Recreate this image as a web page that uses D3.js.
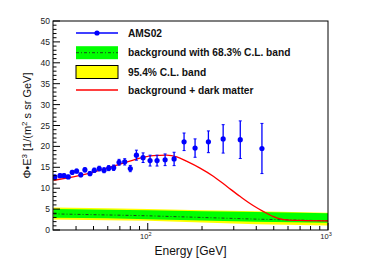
<!DOCTYPE html>
<html><head><meta charset="utf-8">
<script src="https://cdn.jsdelivr.net/npm/d3@7"></script>
<style>body{margin:0;background:#fff}svg{display:block}</style>
</head><body><svg id="c" width="382" height="262"></svg>
<script>
// Data
const energy = [30.5, 32.6, 34.3, 36.2, 38.1, 40.3, 42.5, 44.8, 47.8, 50.5, 53.8, 57.2, 60.7, 64.7, 69.3, 74.5, 80.0, 86.5, 94.2, 103, 112.6, 124.8, 140, 159, 183, 217, 262, 326, 430];
const flux = [12.7, 13.0, 13.0, 12.7, 13.8, 14.1, 13.2, 14.4, 13.5, 14.3, 14.7, 14.3, 14.8, 14.9, 16.2, 16.3, 14.7, 17.9, 17.3, 16.6, 16.6, 16.8, 17.0, 21.1, 19.6, 21.1, 21.8, 21.6, 19.5];
const fluxErr = [0.4, 0.4, 0.4, 0.4, 0.45, 0.45, 0.45, 0.5, 0.5, 0.5, 0.55, 0.6, 0.6, 0.65, 0.7, 0.75, 0.75, 1.2, 1.15, 1.3, 1.3, 1.4, 1.6, 2.1, 2.2, 2.6, 3.4, 4.5, 6.0];

const dmEnergy = [30, 38.6, 47.8, 59.1, 73.2, 90.6, 107, 127, 145, 165, 195, 232, 275, 326, 386, 439, 499, 567, 700, 1000];
const dmFlux = [11.9, 12.7, 13.6, 14.8, 16.0, 17.2, 17.8, 17.9, 17.5, 16.4, 14.8, 12.8, 10.4, 8.0, 5.8, 4.4, 3.2, 2.5, 2.3, 2.2];

const bandEnergy = [30, 60, 100, 200, 400, 1000];
const bgCenter = [3.85, 3.6, 3.4, 3.0, 2.6, 2.2];
const band68Lo = [2.95, 2.8, 2.6, 2.3, 2.0, 1.75];
const band68Hi = [5.0, 4.85, 4.7, 4.5, 4.3, 4.0];
const band95Lo = [2.5, 2.35, 2.2, 1.8, 1.4, 1.1];
const band95Hi = [5.4, 5.2, 5.0, 4.75, 4.5, 4.15];

const yTicks = [0, 5, 10, 15, 20, 25, 30, 35, 40, 45, 50];
const xMajor = [100, 1000];
const xMajorExp = ["2", "3"];
const legendLabels = ["AMS02", "background with 68.3% C.L. band", "95.4% C.L. band", "background + dark matter"];

const L = 53, R = 328, T = 21, B = 230;
const svg = d3.select("#c");
const x = d3.scaleLog().domain([29.8, 1000]).range([L, R]);
const y = d3.scaleLinear().domain([0, 50]).range([B, T]);

svg.append("clipPath").attr("id", "clip").append("rect")
  .attr("x", L).attr("y", T).attr("width", R - L).attr("height", B - T);
const g = svg.append("g").attr("clip-path", "url(#clip)");

const band = bandEnergy.map((e, i) => ({e, c: bgCenter[i], gl: band68Lo[i], gh: band68Hi[i], yl: band95Lo[i], yh: band95Hi[i]}));
g.append("path").datum(band).attr("fill", "#ffff00")
  .attr("d", d3.area().x(d => x(d.e)).y0(d => y(d.yl)).y1(d => y(d.yh)));
g.append("path").datum(band).attr("fill", "#00ff00")
  .attr("d", d3.area().x(d => x(d.e)).y0(d => y(d.gl)).y1(d => y(d.gh)));
g.append("path").datum(band).attr("fill", "none").attr("stroke", "#1a4d1a").attr("stroke-width", 1)
  .attr("stroke-dasharray", "3,2,1,2")
  .attr("d", d3.line().x(d => x(d.e)).y(d => y(d.c)));

const dm = dmEnergy.map((e, i) => ({e, v: dmFlux[i]}));
g.append("path").datum(dm).attr("fill", "none").attr("stroke", "#ff0000").attr("stroke-width", 1.3)
  .attr("d", d3.line().x(d => x(d.e)).y(d => y(d.v)).curve(d3.curveMonotoneX));

const pts = energy.map((e, i) => ({e, v: flux[i], s: fluxErr[i]}));
const pg = g.append("g");
pts.forEach(p => {
  const px = x(p.e);
  pg.append("line").attr("x1", px).attr("x2", px).attr("y1", y(p.v - p.s)).attr("y2", y(p.v + p.s))
    .attr("stroke", "#0000ff").attr("stroke-width", 1.3);
  [p.v - p.s, p.v + p.s].forEach(vv => pg.append("line").attr("x1", px - 1.5).attr("x2", px + 1.5)
    .attr("y1", y(vv)).attr("y2", y(vv)).attr("stroke", "#0000ff").attr("stroke-width", 1));
  pg.append("circle").attr("cx", px).attr("cy", y(p.v)).attr("r", 2.6).attr("fill", "#0000ff");
});

// frame
svg.append("rect").attr("x", L).attr("y", T).attr("width", R - L).attr("height", B - T)
  .attr("fill", "none").attr("stroke", "#000").attr("stroke-width", 1);

// y ticks
const yMinor = d3.range(0, 51, 1);
yMinor.forEach(v => {
  const major = v % 5 === 0;
  svg.append("line").attr("x1", L).attr("x2", L + (major ? 7 : 3.5)).attr("y1", y(v)).attr("y2", y(v))
    .attr("stroke", "#000").attr("stroke-width", 1);
});
yTicks.forEach(v => svg.append("text").attr("x", 50).attr("y", y(v) + 3)
  .attr("text-anchor", "end").attr("font-family", "Liberation Sans, Arial, sans-serif")
  .attr("font-size", 8.5).attr("fill", "#222").text(v));

// x ticks
const xMinor = [40, 50, 60, 70, 80, 90, 200, 300, 400, 500, 600, 700, 800, 900];
xMinor.forEach(v => svg.append("line").attr("x1", x(v)).attr("x2", x(v)).attr("y1", B).attr("y2", B - 4)
  .attr("stroke", "#000").attr("stroke-width", 1));
xMajor.forEach((v, i) => {
  svg.append("line").attr("x1", x(v)).attr("x2", x(v)).attr("y1", B).attr("y2", B - 7)
    .attr("stroke", "#000").attr("stroke-width", 1);
  const t = svg.append("text").attr("x", x(v) - 2).attr("y", 239).attr("text-anchor", "middle")
    .attr("font-family", "Liberation Sans, Arial, sans-serif").attr("font-size", 7.5).attr("fill", "#222");
  t.append("tspan").text("10");
  t.append("tspan").attr("font-size", 5.5).attr("dy", -3).text(xMajorExp[i]);
});

// axis titles
svg.append("text").attr("x", (L + R) / 2).attr("y", 255).attr("text-anchor", "middle")
  .attr("font-family", "Liberation Sans, Arial, sans-serif").attr("font-size", 12).attr("fill", "#111")
  .text("Energy [GeV]");
const yt = svg.append("text").attr("transform", `translate(31,${(T + B) / 2}) rotate(-90)`)
  .attr("text-anchor", "middle").attr("font-family", "Liberation Sans, Arial, sans-serif")
  .attr("font-size", 11).attr("fill", "#111");
yt.append("tspan").text("Φ•E");
yt.append("tspan").attr("font-size", 8).attr("dy", -4.5).text("3");
yt.append("tspan").attr("dy", 4.5).text(" [1/(m");
yt.append("tspan").attr("font-size", 8).attr("dy", -4.5).text("2");
yt.append("tspan").attr("dy", 4.5).text(" s sr GeV]");

// legend
const lx0 = 76, lx1 = 118, tx = 128;
const ly = [33, 52.7, 72, 90];
svg.append("line").attr("x1", lx0).attr("x2", lx1).attr("y1", ly[0]).attr("y2", ly[0]).attr("stroke", "#0000ff").attr("stroke-width", 1.3);
svg.append("circle").attr("cx", (lx0 + lx1) / 2).attr("cy", ly[0]).attr("r", 2.6).attr("fill", "#0000ff");
svg.append("rect").attr("x", lx0).attr("y", ly[1] - 6.5).attr("width", lx1 - lx0).attr("height", 13).attr("fill", "#00ff00");
svg.append("line").attr("x1", lx0).attr("x2", lx1).attr("y1", ly[1]).attr("y2", ly[1]).attr("stroke", "#1a4d1a").attr("stroke-dasharray", "3,2,1,2");
svg.append("rect").attr("x", lx0).attr("y", ly[2] - 6.5).attr("width", lx1 - lx0).attr("height", 13).attr("fill", "#ffff00").attr("stroke", "#000").attr("stroke-width", 1);
svg.append("line").attr("x1", lx0).attr("x2", lx1).attr("y1", ly[3]).attr("y2", ly[3]).attr("stroke", "#ff0000").attr("stroke-width", 1.3);
legendLabels.forEach((s, i) => svg.append("text").attr("x", tx).attr("y", ly[i] + 3.6)
  .attr("font-family", "Liberation Sans, Arial, sans-serif").attr("font-weight", "bold")
  .attr("font-size", 10.2).attr("fill", "#111").text(s));
</script></body></html>
